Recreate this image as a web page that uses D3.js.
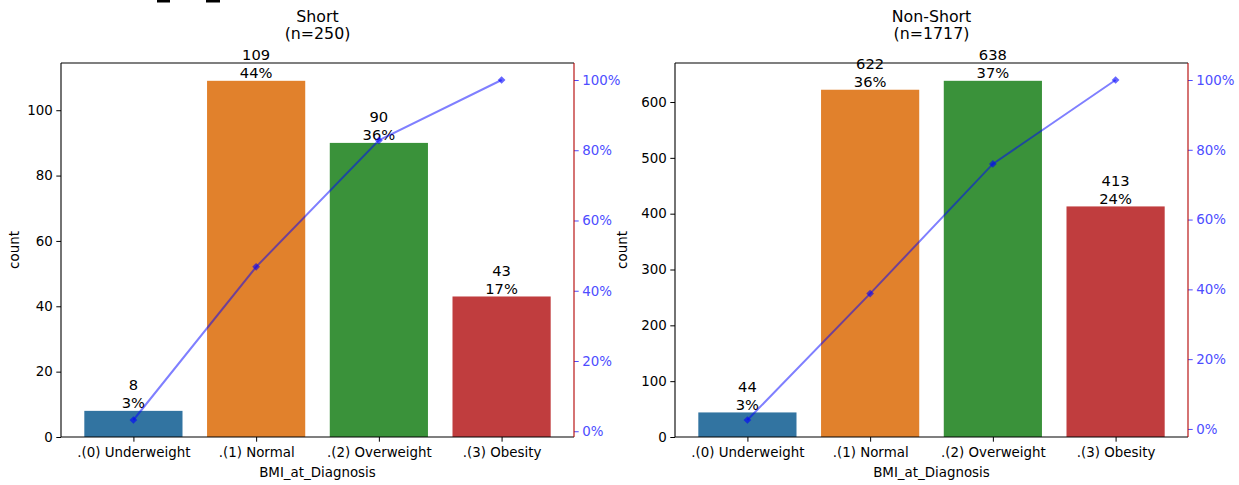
<!DOCTYPE html>
<html><head><meta charset="utf-8">
<script src="https://cdn.jsdelivr.net/npm/d3@7"></script>
<style>body{margin:0;background:#fff}svg{display:block;font-family:"DejaVu Sans",sans-serif}</style>
</head><body><svg id="c" width="1239" height="485"></svg>
<script>
const categories = [".(0) Underweight", ".(1) Normal", ".(2) Overweight", ".(3) Obesity"];
const shortCounts = [8, 109, 90, 43];
const nonShortCounts = [44, 622, 638, 413];
const panelTitles = ["Short", "Non-Short"];
const shortCountTicks = [0, 20, 40, 60, 80, 100];
const nonShortCountTicks = [0, 100, 200, 300, 400, 500, 600];
const pctTicks = [0, 20, 40, 60, 80, 100];
const barColors = ["#3274a1", "#e1812c", "#3a923a", "#c03d3e"];

(function () {
const svg = d3.select("#c");
const panels = [
  {title: panelTitles[0], counts: shortCounts, ticks: shortCountTicks, left: 61, right: 574, ylab: 42},
  {title: panelTitles[1], counts: nonShortCounts, ticks: nonShortCountTicks, left: 675, right: 1188, ylab: 48}
];
const plotTop = 63, plotBottom = 437;
const tickFont = 13.4, titleFont = 15.8, labelFont = 14.7;

svg.append("rect").attr("x", 157).attr("y", 0).attr("width", 13).attr("height", 2.5).attr("fill", "#000");
svg.append("rect").attr("x", 206).attr("y", 0).attr("width", 14).attr("height", 2.5).attr("fill", "#000");

panels.forEach(p => {
  const n = d3.sum(p.counts);
  const cum = [];
  let acc = 0;
  p.counts.forEach(c => { acc += c; cum.push(acc / n * 100); });
  const x = d3.scaleLinear().domain([-0.59, categories.length - 1 + 0.59]).range([p.left, p.right]);
  const y = d3.scaleLinear().domain([0, d3.max(p.counts) * 1.05]).range([plotBottom, plotTop]);
  const cmin = d3.min(cum), cmax = d3.max(cum), pad = (cmax - cmin) * 0.05;
  const y2 = d3.scaleLinear().domain([cmin - pad, cmax + pad]).range([plotBottom, plotTop]);
  const g = svg.append("g");

  g.selectAll("rect.bar").data(p.counts).join("rect").attr("class", "bar")
    .attr("x", (d, i) => x(i - 0.4)).attr("width", (d, i) => x(i + 0.4) - x(i - 0.4))
    .attr("y", d => y(d)).attr("height", d => y(0) - y(d))
    .attr("fill", (d, i) => barColors[i]);

  p.counts.forEach((c, i) => {
    const t = g.append("text").attr("x", x(i)).attr("text-anchor", "middle")
      .attr("font-size", labelFont).attr("fill", "#000");
    t.append("tspan").attr("x", x(i)).attr("y", y(c) - 20.5).text(c);
    t.append("tspan").attr("x", x(i)).attr("y", y(c) - 2.5).text(Math.round(c / n * 100) + "%");
  });

  const ya = d3.axisLeft(y).tickValues(p.ticks).tickSize(4.7).tickPadding(3.5);
  const yg = g.append("g").attr("transform", `translate(${p.left},0)`).call(ya);
  yg.select(".domain").remove();
  yg.selectAll("text").attr("font-size", tickFont).attr("font-family", "DejaVu Sans").attr("fill", "#000");
  yg.selectAll("line").attr("stroke", "#000").attr("stroke-width", 1);

  const xa = d3.axisBottom(x).tickValues(d3.range(categories.length)).tickFormat(i => categories[i]).tickSize(4.7).tickPadding(6);
  const xg = g.append("g").attr("transform", `translate(0,${plotBottom})`).call(xa);
  xg.select(".domain").remove();
  xg.selectAll("text").attr("font-size", tickFont).attr("font-family", "DejaVu Sans").attr("fill", "#000");
  xg.selectAll("line").attr("stroke", "#000").attr("stroke-width", 1);

  const y2a = d3.axisRight(y2).tickValues(pctTicks).tickFormat(d => d + "%").tickSize(4.7).tickPadding(3.5);
  const y2g = g.append("g").attr("transform", `translate(${p.right},0)`).call(y2a);
  y2g.select(".domain").remove();
  y2g.selectAll("text").attr("font-size", tickFont).attr("font-family", "DejaVu Sans").attr("fill", "#4d4dff");
  y2g.selectAll("line").attr("stroke", "#4d4dff").attr("stroke-width", 1);

  const spine = (x1, y1, x2, y2c, col) => g.append("line").attr("x1", x1).attr("y1", y1).attr("x2", x2).attr("y2", y2c)
    .attr("stroke", col).attr("stroke-width", 1.1);
  spine(p.left, plotTop, p.right, plotTop, "#000");
  spine(p.left, plotBottom, p.right, plotBottom, "#000");
  spine(p.left, plotTop, p.left, plotBottom, "#000");
  spine(p.right, plotTop, p.right, plotBottom, "#b30000");

  const line = d3.line().x((d, i) => x(i)).y(d => y2(d));
  g.append("path").datum(cum).attr("d", line).attr("fill", "none")
    .attr("stroke", "blue").attr("stroke-opacity", 0.5).attr("stroke-width", 2);
  g.selectAll("path.mk").data(cum).join("path").attr("class", "mk")
    .attr("d", d3.symbol().type(d3.symbolSquare).size(30))
    .attr("transform", (d, i) => `translate(${x(i)},${y2(d)}) rotate(45)`)
    .attr("fill", "blue").attr("fill-opacity", 0.6);

  const cx = (p.left + p.right) / 2;
  g.append("text").attr("x", cx).attr("y", 22).attr("text-anchor", "middle").attr("font-size", titleFont).text(p.title);
  g.append("text").attr("x", cx).attr("y", 39).attr("text-anchor", "middle").attr("font-size", titleFont).text(`(n=${n})`);

  g.append("text").attr("x", cx).attr("y", 477).attr("text-anchor", "middle").attr("font-size", tickFont).text("BMI_at_Diagnosis");
  g.append("text").attr("transform", `translate(${p.left - p.ylab},${(plotTop + plotBottom) / 2}) rotate(-90)`)
    .attr("text-anchor", "middle").attr("font-size", tickFont).text("count");
});
})();
</script></body></html>
